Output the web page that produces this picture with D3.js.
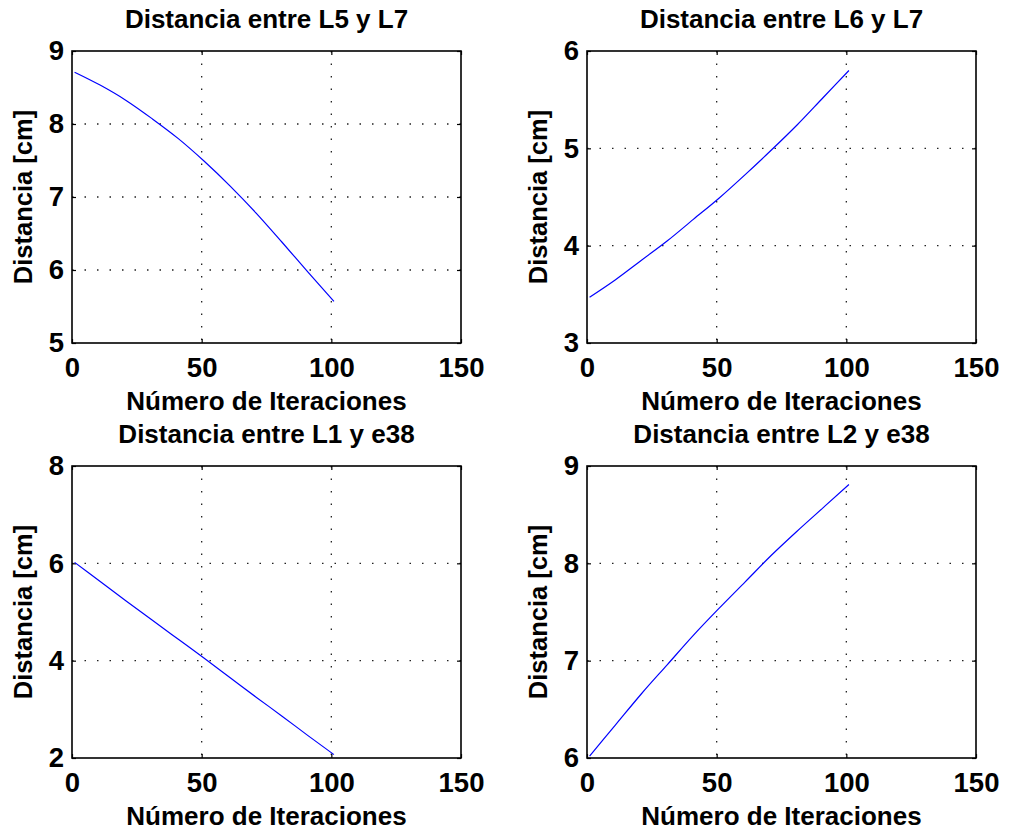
<!DOCTYPE html>
<html>
<head>
<meta charset="utf-8">
<script src="https://cdn.jsdelivr.net/npm/d3@7"></script>
<style>
  body { margin: 0; background: #fff; }
  svg text { font-family: "Liberation Sans", Arial, Helvetica, sans-serif; font-weight: bold; fill: #000; }
</style>
</head>
<body>
<svg id="chart" width="1012" height="832"></svg>
<script>
// iteration numbers shared by all four panels
const iterations = [1, 11, 21, 31, 41, 51, 61, 71, 81, 91, 101]

// distances [cm]
const distL5L7 = [8.71, 8.53, 8.32, 8.07, 7.80, 7.49, 7.15, 6.78, 6.38, 5.97, 5.57]
const distL6L7 = [3.47, 3.65, 3.85, 4.05, 4.27, 4.49, 4.73, 4.98, 5.24, 5.52, 5.80]
const distL1e38 = [6.02, 5.62, 5.22, 4.83, 4.44, 4.05, 3.65, 3.25, 2.86, 2.46, 2.07]
const distL2e38 = [6.02, 6.34, 6.66, 6.96, 7.26, 7.54, 7.81, 8.08, 8.33, 8.57, 8.81]

const titles = ['Distancia entre L5 y L7', 'Distancia entre L6 y L7', 'Distancia entre L1 y e38', 'Distancia entre L2 y e38']
const xTicks = [0, 50, 100, 150]
const yTicksL5L7 = [5, 6, 7, 8, 9]
const yTicksL6L7 = [3, 4, 5, 6]
const yTicksL1e38 = [2, 4, 6, 8]
const yTicksL2e38 = [6, 7, 8, 9]

const xLabel = 'Número de Iteraciones'
const yLabel = 'Distancia [cm]'

const panels = [
  { title: titles[0], values: distL5L7, yTicks: yTicksL5L7, left: 72, top: 51 },
  { title: titles[1], values: distL6L7, yTicks: yTicksL6L7, left: 587, top: 51 },
  { title: titles[2], values: distL1e38, yTicks: yTicksL1e38, left: 72, top: 466 },
  { title: titles[3], values: distL2e38, yTicks: yTicksL2e38, left: 587, top: 466 },
]

const plotW = 389
const plotH = 292
const tickLen = 4
const svg = d3.select('#chart')

panels.forEach((p) => {
  const x = d3.scaleLinear().domain([0, 150]).range([0, plotW])
  const y = d3.scaleLinear().domain(d3.extent(p.yTicks)).range([plotH, 0])
  const g = svg.append('g').attr('transform', `translate(${p.left},${p.top})`)

  // dotted grid
  g.append('g').selectAll('line')
    .data(xTicks.filter((d) => d > 0 && d < 150)).enter()
    .append('line')
    .attr('x1', (d) => x(d)).attr('x2', (d) => x(d))
    .attr('y1', 0).attr('y2', plotH)
    .attr('stroke', '#222').attr('stroke-width', 1.3)
    .attr('stroke-dasharray', '1.5,11')
  g.append('g').selectAll('line')
    .data(p.yTicks.slice(1, -1)).enter()
    .append('line')
    .attr('x1', 0).attr('x2', plotW)
    .attr('y1', (d) => y(d)).attr('y2', (d) => y(d))
    .attr('stroke', '#222').attr('stroke-width', 1.3)
    .attr('stroke-dasharray', '1.5,11')

  // inward ticks on all four sides
  const xAxisB = d3.axisBottom(x).tickValues(xTicks).tickSize(-tickLen).tickFormat(d3.format('d')).tickPadding(14)
  const xAxisT = d3.axisTop(x).tickValues(xTicks).tickSize(-tickLen).tickFormat('')
  const yAxisL = d3.axisLeft(y).tickValues(p.yTicks).tickSize(-tickLen).tickFormat(d3.format('d')).tickPadding(8)
  const yAxisR = d3.axisRight(y).tickValues(p.yTicks).tickSize(-tickLen).tickFormat('')

  const ax = [
    g.append('g').attr('transform', `translate(0,${plotH})`).call(xAxisB),
    g.append('g').call(xAxisT),
    g.append('g').call(yAxisL),
    g.append('g').attr('transform', `translate(${plotW},0)`).call(yAxisR),
  ]
  ax.forEach((a) => {
    a.select('.domain').remove()
    a.attr('font-family', null).attr('font-size', null)
    a.selectAll('line').attr('stroke', '#000').attr('stroke-width', 1.2)
    a.selectAll('text').style('font-size', '27.5px')
  })

  // box
  g.append('rect')
    .attr('width', plotW).attr('height', plotH)
    .attr('fill', 'none').attr('stroke', '#000').attr('stroke-width', 1.6)

  // series
  const line = d3.line()
    .x((d, i) => x(iterations[i]))
    .y((d) => y(d))
    .curve(d3.curveMonotoneX)
  g.append('path')
    .datum(p.values)
    .attr('d', line)
    .attr('fill', 'none')
    .attr('stroke', '#0000ff')
    .attr('stroke-width', 1.2)

  // labels
  g.append('text')
    .attr('x', plotW / 2).attr('y', -23)
    .attr('text-anchor', 'middle').style('font-size', '26px')
    .text(p.title)
  g.append('text')
    .attr('x', plotW / 2).attr('y', plotH + 67)
    .attr('text-anchor', 'middle').style('font-size', '26px')
    .text(xLabel)
  g.append('text')
    .attr('transform', `translate(-40,${plotH / 2}) rotate(-90)`)
    .attr('text-anchor', 'middle').style('font-size', '25.5px')
    .text(yLabel)
})
</script>
</body>
</html>
